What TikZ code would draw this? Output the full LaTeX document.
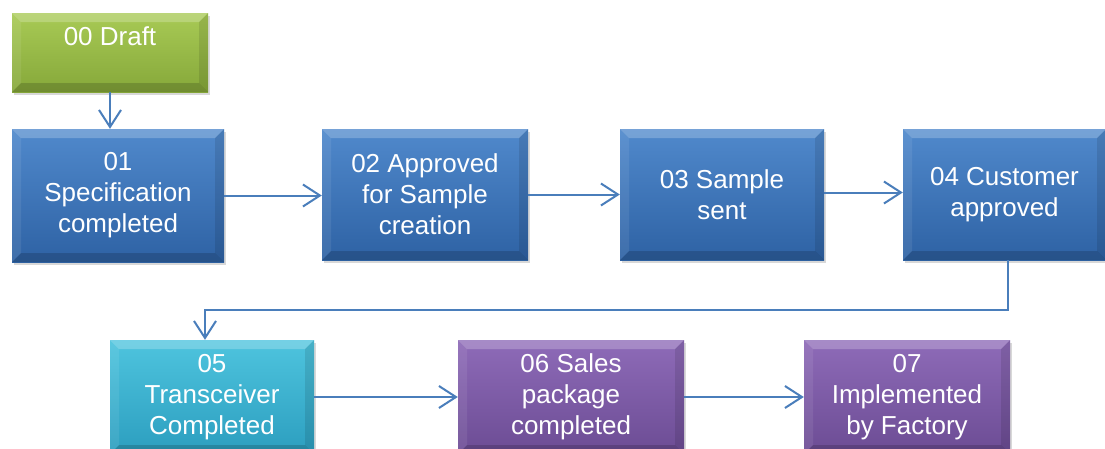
\documentclass[tikz,border=0pt]{standalone}
\usepackage{fontspec}
\setmainfont{Liberation Sans}
\usetikzlibrary{arrows.meta,shadows,calc}
\definecolor{arrowblue}{HTML}{4A7EBB}
\definecolor{bluetop}{HTML}{5089CC}
\definecolor{bluebot}{HTML}{2E62A4}
\definecolor{greentop}{HTML}{A8CA55}
\definecolor{greenbot}{HTML}{86A83A}
\definecolor{tealtop}{HTML}{4EC4DE}
\definecolor{tealbot}{HTML}{2C9EBF}
\definecolor{purptop}{HTML}{8E6BB8}
\definecolor{purpbot}{HTML}{6C4C94}
\tikzset{
  procbox/.style={rectangle, inner sep=0pt, align=center, text=white,
    font=\fontsize{26}{31}\selectfont,
    drop shadow={opacity=0.3, shadow xshift=2pt, shadow yshift=-3pt},
    path picture={
      \fill[white,opacity=0.22] (path picture bounding box.north west) -- (path picture bounding box.north east)
        -- ([shift={(-9pt,-9pt)}]path picture bounding box.north east) -- ([shift={(9pt,-9pt)}]path picture bounding box.north west) -- cycle;
      \fill[white,opacity=0.08] (path picture bounding box.north west) -- (path picture bounding box.south west)
        -- ([shift={(9pt,9pt)}]path picture bounding box.south west) -- ([shift={(9pt,-9pt)}]path picture bounding box.north west) -- cycle;
      \fill[black,opacity=0.16] (path picture bounding box.south west) -- (path picture bounding box.south east)
        -- ([shift={(-9pt,9pt)}]path picture bounding box.south east) -- ([shift={(9pt,9pt)}]path picture bounding box.south west) -- cycle;
      \fill[black,opacity=0.10] (path picture bounding box.north east) -- (path picture bounding box.south east)
        -- ([shift={(-9pt,9pt)}]path picture bounding box.south east) -- ([shift={(-9pt,-9pt)}]path picture bounding box.north east) -- cycle;
    }},
  bluebox/.style={procbox, top color=bluetop, bottom color=bluebot},
  greenbox/.style={procbox, top color=greentop, bottom color=greenbot},
  tealbox/.style={procbox, top color=tealtop, bottom color=tealbot},
  purpbox/.style={procbox, top color=purptop, bottom color=purpbot},
  flow/.style={draw=arrowblue, line width=2pt, -{Straight Barb[length=17pt,width=22pt,line width=2pt]}}
}
\begin{document}
\begin{tikzpicture}[x=1pt,y=-1pt]
\clip (0,0) rectangle (1105,448);
\fill[white] (0,0) rectangle (1105,448);
\node[greenbox, minimum width=196pt, minimum height=79pt] (d00) at (110,52.5) {00 Draft\\[-7pt]\strut};
\node[bluebox, minimum width=212pt, minimum height=133pt] (s01) at (118,195.5) {01\\Specification\\completed};
\node[bluebox, minimum width=206pt, minimum height=131pt] (s02) at (425,194.5) {02 Approved\\for Sample\\creation};
\node[bluebox, minimum width=204pt, minimum height=131pt] (s03) at (722,194.5) {03 Sample\\sent};
\node[bluebox, minimum width=203pt, minimum height=131pt] (s04) at (1004.5,194.5) {04 Customer\\approved};
\node[tealbox, minimum width=204pt, minimum height=114pt] (s05) at (212,397) {05\\Transceiver\\Completed};
\node[purpbox, minimum width=226pt, minimum height=114pt] (s06) at (571,397) {06 Sales\\package\\completed};
\node[purpbox, minimum width=206pt, minimum height=114pt] (s07) at (907,397) {07\\Implemented\\by Factory};
\draw[flow] (d00.south) -- (d00.south |- s01.north);
\draw[flow] (s01.east) -- (s01.east -| s02.west);
\draw[flow] (s02.east) -- (s02.east -| s03.west);
\draw[flow] ([yshift=2pt]s03.east) -- ([yshift=2pt]s03.east -| s04.west);
\draw[flow] ([xshift=3pt]s04.south) -- ++(0,50) -| ([xshift=-7pt]s05.north);
\draw[flow] (s05.east) -- (s05.east -| s06.west);
\draw[flow] (s06.east) -- (s06.east -| s07.west);
\end{tikzpicture}
\end{document}
